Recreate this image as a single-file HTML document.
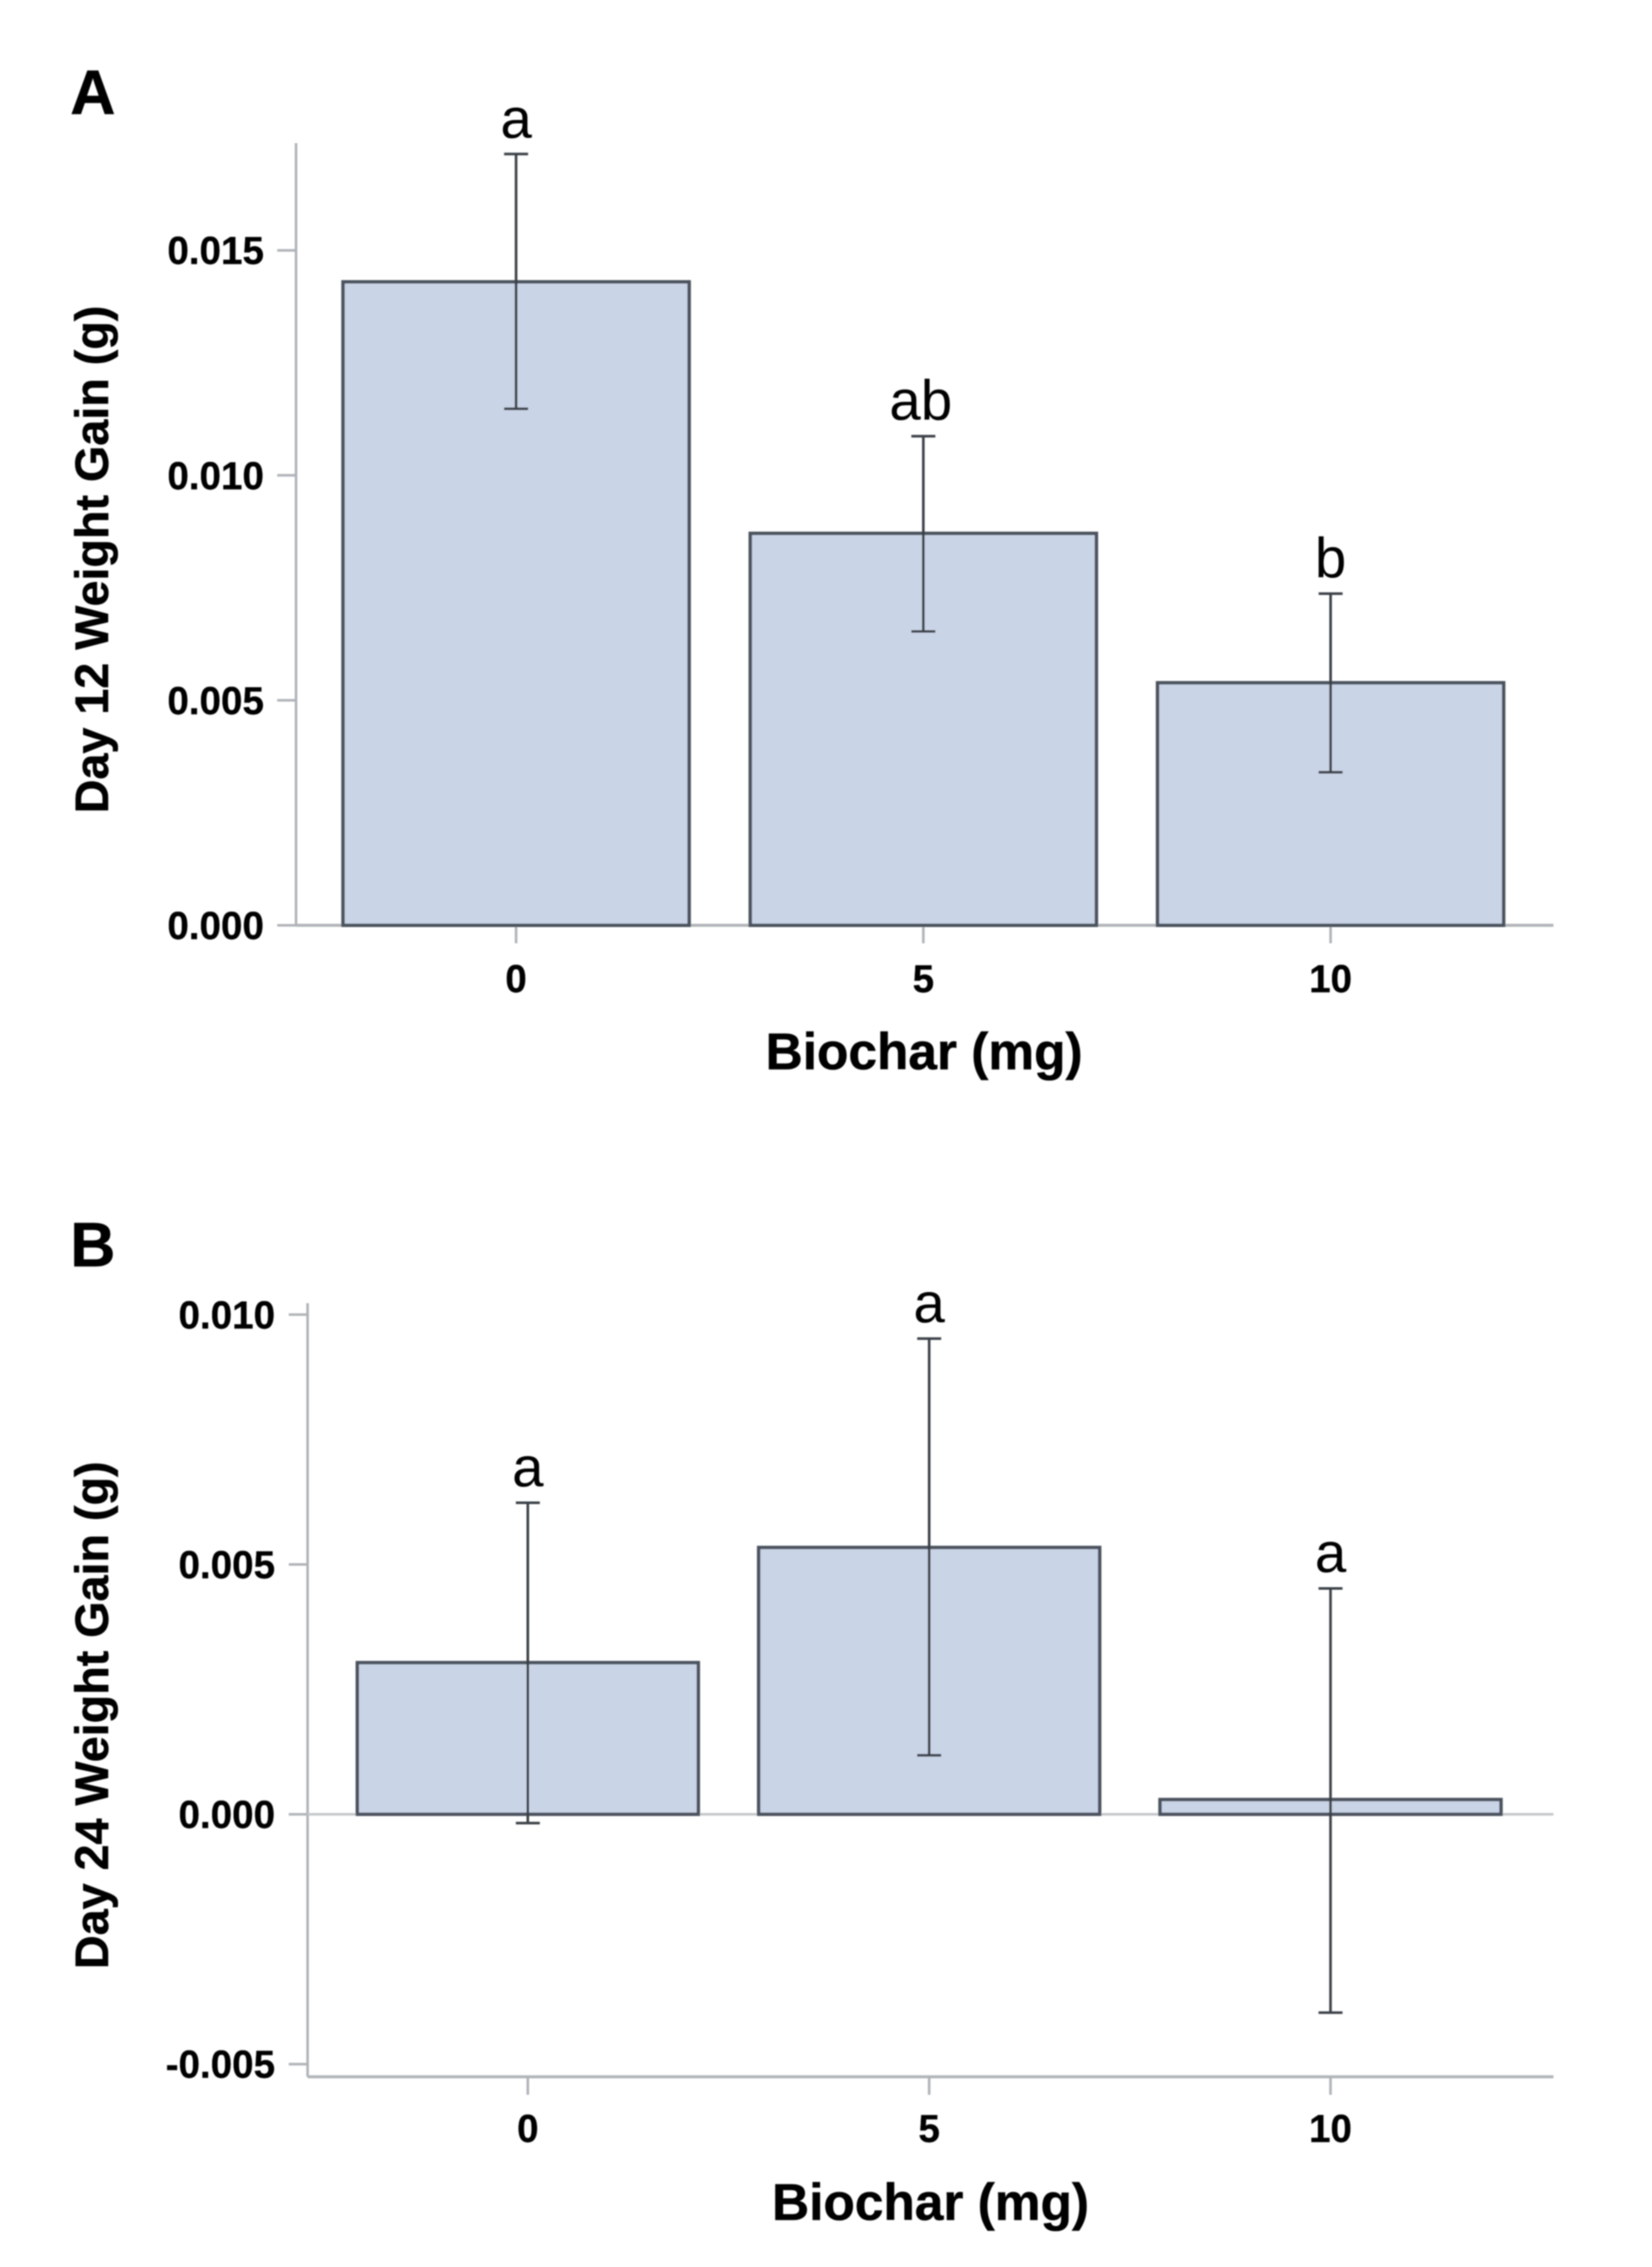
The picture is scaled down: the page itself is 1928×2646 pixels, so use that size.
<!DOCTYPE html>
<html lang="en">
<head>
<meta charset="utf-8">
<title>Biochar weight gain bar charts</title>
<style>
html,body{margin:0;padding:0;background:#fff;}
svg{display:block;}
text{font-family:"Liberation Sans",sans-serif;fill:#050505;}
.bold{font-weight:700;stroke:#050505;stroke-width:0.6;}
</style>
</head>
<body>
<svg id="figure" xmlns="http://www.w3.org/2000/svg" width="1928" height="2646" viewBox="0 0 1928 2646">
  <defs>
    <filter id="soft" x="-5%" y="-5%" width="110%" height="110%"><feGaussianBlur stdDeviation="0.9"/></filter>
  </defs>
  <rect width="1928" height="2646" fill="#fff"/>
  <g id="root" filter="url(#soft)">
    <text class="bold" x="82" y="133" font-size="73">A</text>
    <text class="bold" x="82" y="1478" font-size="73">B</text>
    <text class="bold" font-size="54.5" text-anchor="middle" transform="translate(126 653) rotate(-90)">Day 12 Weight Gain (g)</text>
    <text class="bold" font-size="54.5" text-anchor="middle" transform="translate(126 2002) rotate(-90)">Day 24 Weight Gain (g)</text>
    <text class="bold" font-size="60" text-anchor="middle" x="1078.5" y="1248">Biochar (mg)</text>
    <text class="bold" font-size="60" text-anchor="middle" x="1086" y="2591">Biochar (mg)</text>
    <g id="panel-a"></g>
    <g id="panel-b"></g>
  </g>
</svg>
<script>
const categories = ['0', '5', '10'];

const day12Means = [0.0143, 0.00871, 0.00539];
const day12Upper = [0.01714, 0.01087, 0.00737];
const day12Lower = [0.01148, 0.00653, 0.0034];
const day12Letters = ['a', 'ab', 'b'];
const day12Ticks = [0, 0.005, 0.01, 0.015];
const day12TickLabels = ['0.000', '0.005', '0.010', '0.015'];

const day24Means = [0.003035, 0.00534, 0.000295];
const day24Upper = [0.006235, 0.00952, 0.00452];
const day24Lower = [-0.000177, 0.00118, -0.00397];
const day24Letters = ['a', 'a', 'a'];
const day24Ticks = [-0.005, 0, 0.005, 0.01];
const day24TickLabels = ['-0.005', '0.000', '0.005', '0.010'];

const NS = 'http://www.w3.org/2000/svg';
const AXIS = '#b0b4b8';
const EDGE = '#4c535e';
const WHISK = '#3a3f47';
const FILL = '#c9d4e6';

function make(parent, tag, attrs, text) {
  const el = document.createElementNS(NS, tag);
  for (const k in attrs) el.setAttribute(k, attrs[k]);
  if (text !== undefined) el.textContent = text;
  parent.appendChild(el);
  return el;
}

function drawPanel(root, o) {
  const yScale = v => o.zeroY - v * o.pxPerUnit;
  const xScale = i => o.firstX + i * o.stepX;

  const yAxis = make(root, 'line', {x1: o.axisX, x2: o.axisX, y1: o.axisTop, y2: o.axisBottom, stroke: AXIS, 'stroke-width': 3});
  
  

  const xAxis = make(root, 'line', {x1: o.axisX, x2: o.axisRight, y1: o.axisBottom, y2: o.axisBottom, stroke: AXIS, 'stroke-width': 3.5});
  
  

  if (o.zeroLine) {
    const zero = make(root, 'line', {x1: o.axisX, x2: o.axisRight, y1: yScale(0), y2: yScale(0), stroke: '#c4c7ca', 'stroke-width': 3});
    
    
  }

  o.ticks.forEach((t, i) => {
    const y = yScale(t);
    const tick = make(root, 'line', {x1: o.axisX - 22, x2: o.axisX, y1: y, y2: y, stroke: AXIS, 'stroke-width': 3});
    
    
    const label = make(root, 'text', {x: o.labelRight, y: y + 16, 'text-anchor': 'end', 'font-size': 45, 'font-weight': 700, stroke: '#050505', 'stroke-width': 0.4}, o.tickLabels[i]);
    
    
  });

  categories.forEach((c, i) => {
    const x = xScale(i);
    const tick = make(root, 'line', {x1: x, x2: x, y1: o.axisBottom, y2: o.axisBottom + 21, stroke: AXIS, 'stroke-width': 3});
    
    
    const label = make(root, 'text', {x: x, y: o.axisBottom + o.xLabelDy, 'text-anchor': 'middle', 'font-size': 45, 'font-weight': 700, stroke: '#050505', 'stroke-width': 0.4}, c);
    
    
  });

  o.means.forEach((m, i) => {
    const x = xScale(i);
    const top = yScale(Math.max(m, 0));
    const h = Math.abs(yScale(m) - yScale(0));
    const bar = make(root, 'rect', {x: x - o.barWidth / 2, y: top, width: o.barWidth, height: h, fill: FILL, stroke: EDGE, 'stroke-width': 4});
    
    
  });

  o.means.forEach((m, i) => {
    const x = xScale(i);
    const yU = yScale(o.upper[i]);
    const yL = yScale(o.lower[i]);
    const stem = make(root, 'line', {x1: x, x2: x, y1: yU, y2: yL, stroke: WHISK, 'stroke-width': 3});
    
    
    const capU = make(root, 'line', {x1: x - 14, x2: x + 14, y1: yU, y2: yU, stroke: WHISK, 'stroke-width': 3});
    
    
    const capL = make(root, 'line', {x1: x - 14, x2: x + 14, y1: yL, y2: yL, stroke: WHISK, 'stroke-width': 3});
    
    
    const nudge = o.letters[i].length > 1 ? -3 : 0;
    const letter = make(root, 'text', {x: x + nudge, y: yU - 19, 'text-anchor': 'middle', 'font-size': 66}, o.letters[i]);
    
    
  });
}

drawPanel(document.getElementById('panel-a'), {
  zeroY: 1080, pxPerUnit: 52520, firstX: 602.3, stepX: 475.3, barWidth: 404,
  axisX: 345.5, axisTop: 167, axisBottom: 1080, axisRight: 1813, labelRight: 308, xLabelDy: 78,
  zeroLine: false,
  means: day12Means, upper: day12Upper, lower: day12Lower, letters: day12Letters,
  ticks: day12Ticks, tickLabels: day12TickLabels
});

drawPanel(document.getElementById('panel-b'), {
  zeroY: 2117.6, pxPerUnit: 58320, firstX: 616, stepX: 468.4, barWidth: 398,
  axisX: 359, axisTop: 1521, axisBottom: 2424, axisRight: 1813, labelRight: 321, xLabelDy: 76,
  zeroLine: true,
  means: day24Means, upper: day24Upper, lower: day24Lower, letters: day24Letters,
  ticks: day24Ticks, tickLabels: day24TickLabels
});
</script>
</body>
</html>
